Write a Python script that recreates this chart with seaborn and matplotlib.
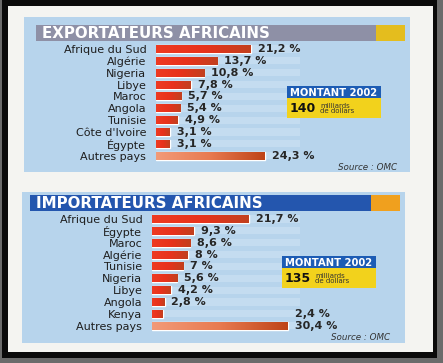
import numpy as np
import matplotlib
matplotlib.use("Agg")
import matplotlib.pyplot as plt
import seaborn as sns
import pandas as pd
from matplotlib.patches import Rectangle
from matplotlib.colors import LinearSegmentedColormap

sns.set_theme(style="white")
plt.rcParams["font.family"] = ["DejaVu Sans"]

# data
exp_countries = ["Afrique du Sud", "Algérie", "Nigeria", "Libye", "Maroc", "Angola",
                 "Tunisie", "Côte d'Ivoire", "Égypte", "Autres pays"]
exp_values = [21.2, 13.7, 10.8, 7.8, 5.7, 5.4, 4.9, 3.1, 3.1, 24.3]
exp_labels = ["21,2 %", "13,7 %", "10,8 %", "7,8 %", "5,7 %", "5,4 %", "4,9 %",
              "3,1 %", "3,1 %", "24,3 %"]
exp_total = "140"

imp_countries = ["Afrique du Sud", "Égypte", "Maroc", "Algérie", "Tunisie", "Nigeria",
                 "Libye", "Angola", "Kenya", "Autres pays"]
imp_values = [21.7, 9.3, 8.6, 8.0, 7.0, 5.6, 4.2, 2.8, 2.4, 30.4]
imp_labels = ["21,7 %", "9,3 %", "8,6 %", "8 %", "7 %", "5,6 %", "4,2 %", "2,8 %",
              "2,4 %", "30,4 %"]
imp_total = "135"

W, H = 443, 363
fig = plt.figure(figsize=(W / 100, H / 100), dpi=100)
fig.patch.set_facecolor("#6b6b6b")


def rect(x0, y0, x1, y1, color, z=0):
    # pixel coords, y from top
    fig.patches.append(Rectangle((x0 / W, 1 - y1 / H), (x1 - x0) / W, (y1 - y0) / H,
                                 transform=fig.transFigure, facecolor=color,
                                 edgecolor="none", zorder=z))


def ftext(x, y, s, **kw):
    fig.text(x / W, 1 - y / H, s, **kw)


rect(2, 0, 437, 358, "#0a0a0a")
rect(8, 6, 433, 352, "#f4f4f1")

red_cmap = LinearSegmentedColormap.from_list("r", ["#ee3a22", "#e8321c", "#c2401f"])
other_cmap = LinearSegmentedColormap.from_list("o", ["#f29a78", "#e87a50", "#bf4418"])


def panel(top, left, right, bottom, bar_x0, title, title_col, box_col, tb, countries,
          values, labels, total, mbox, src, label_override=None):
    rect(left, top, right, bottom, "#b7d4ec", 1)
    rect(tb[0], tb[1], tb[2], tb[3], title_col, 2)
    rect(tb[2] - 29, tb[1], tb[2], tb[3], box_col, 3)
    ftext(tb[0] + 6, (tb[1] + tb[3]) / 2 + 0.5, title, color="white", fontsize=10.8,
          fontweight="bold", va="center", ha="left", zorder=4)

    row0 = tb[3] + 8
    step = 11.85
    y0 = row0 - step / 2
    y1 = y0 + step * len(countries)
    px_per = 4.47
    ax_w = right - 5 - bar_x0
    ax = fig.add_axes([bar_x0 / W, 1 - y1 / H, ax_w / W, (y1 - y0) / H])
    ax.set_facecolor("none")
    ax.set_zorder(5)

    df = pd.DataFrame({"pays": countries, "part": values})
    sns.barplot(data=df, x="part", y="pays", orient="h", color="#e8321c", width=0.68,
                ax=ax, saturation=1)
    bars = list(ax.patches)
    xmax = ax_w / px_per

    for i, p in enumerate(bars):
        cmap = other_cmap if i == len(countries) - 1 else red_cmap
        p.set_facecolor(cmap(0.3))
        x0, yb = p.get_x(), p.get_y()
        grad = np.linspace(0, 1, 64).reshape(1, -1)
        im = ax.imshow(grad, cmap=cmap, aspect="auto", zorder=2,
                       interpolation="bilinear",
                       extent=[x0, x0 + p.get_width(), yb + p.get_height(), yb])
        im.set_clip_path(p)
        p.set_zorder(1)

    # pale stripes behind each row
    for i in range(len(countries)):
        ax.axhspan(i - 0.3, i + 0.3, xmin=0, xmax=(300 - bar_x0) / ax_w,
                   color="#d4e7f6", alpha=0.45, zorder=0, lw=0)
    ax.set_xlim(0, xmax)
    ax.set_ylim(len(countries) - 0.5, -0.5)

    for i, (v, lab) in enumerate(zip(values, labels)):
        xv = v
        if label_override and countries[i] in label_override:
            xv = values[label_override[countries[i]]]
        ax.annotate(lab, (xv, i), xytext=(5, 0), textcoords="offset points",
                    va="center", ha="left", fontsize=8, fontweight="bold",
                    color="#262626")

    ax.set_xlabel("")
    ax.set_ylabel("")
    ax.set_xticks([])
    ax.tick_params(axis="y", length=0, pad=7, labelsize=8, labelcolor="#1e1e1e")
    sns.despine(ax=ax, left=True, bottom=True)

    mx0, my0, mx1 = mbox
    rect(mx0, my0, mx1, my0 + 12, "#1d5cb4", 6)
    rect(mx0, my0 + 12, mx1, my0 + 32, "#f2d21c", 6)
    ftext((mx0 + mx1) / 2, my0 + 6.5, "MONTANT 2002", color="white", fontsize=7.2,
          fontweight="bold", ha="center", va="center", zorder=7)
    ftext(mx0 + 3, my0 + 22.5, total, color="#111111", fontsize=9,
          fontweight="bold", ha="left", va="center", zorder=7)
    ftext(mx0 + 33, my0 + 22.5, "milliards\nde dollars", color="#333333", fontsize=5,
          ha="left", va="center", linespacing=0.95, zorder=7)

    ftext(src[0], src[1], "Source : OMC", fontsize=6.3, style="italic",
          color="#333333", ha="right", va="center", zorder=7)


panel(17, 24, 410, 172, 156, "EXPORTATEURS AFRICAINS", "#8e90a6", "#e4bd1e",
      (36, 25, 405, 41), exp_countries, exp_values, exp_labels, exp_total,
      (287, 86, 381), (397, 168))

panel(192, 22, 405, 343, 152, "IMPORTATEURS AFRICAINS", "#2456ae", "#f0a01e",
      (30, 195, 400, 211), imp_countries, imp_values, imp_labels, imp_total,
      (282, 256, 376), (390, 338), label_override={"Kenya": 9})

fig.savefig("out.png", dpi=100, facecolor=fig.get_facecolor())
